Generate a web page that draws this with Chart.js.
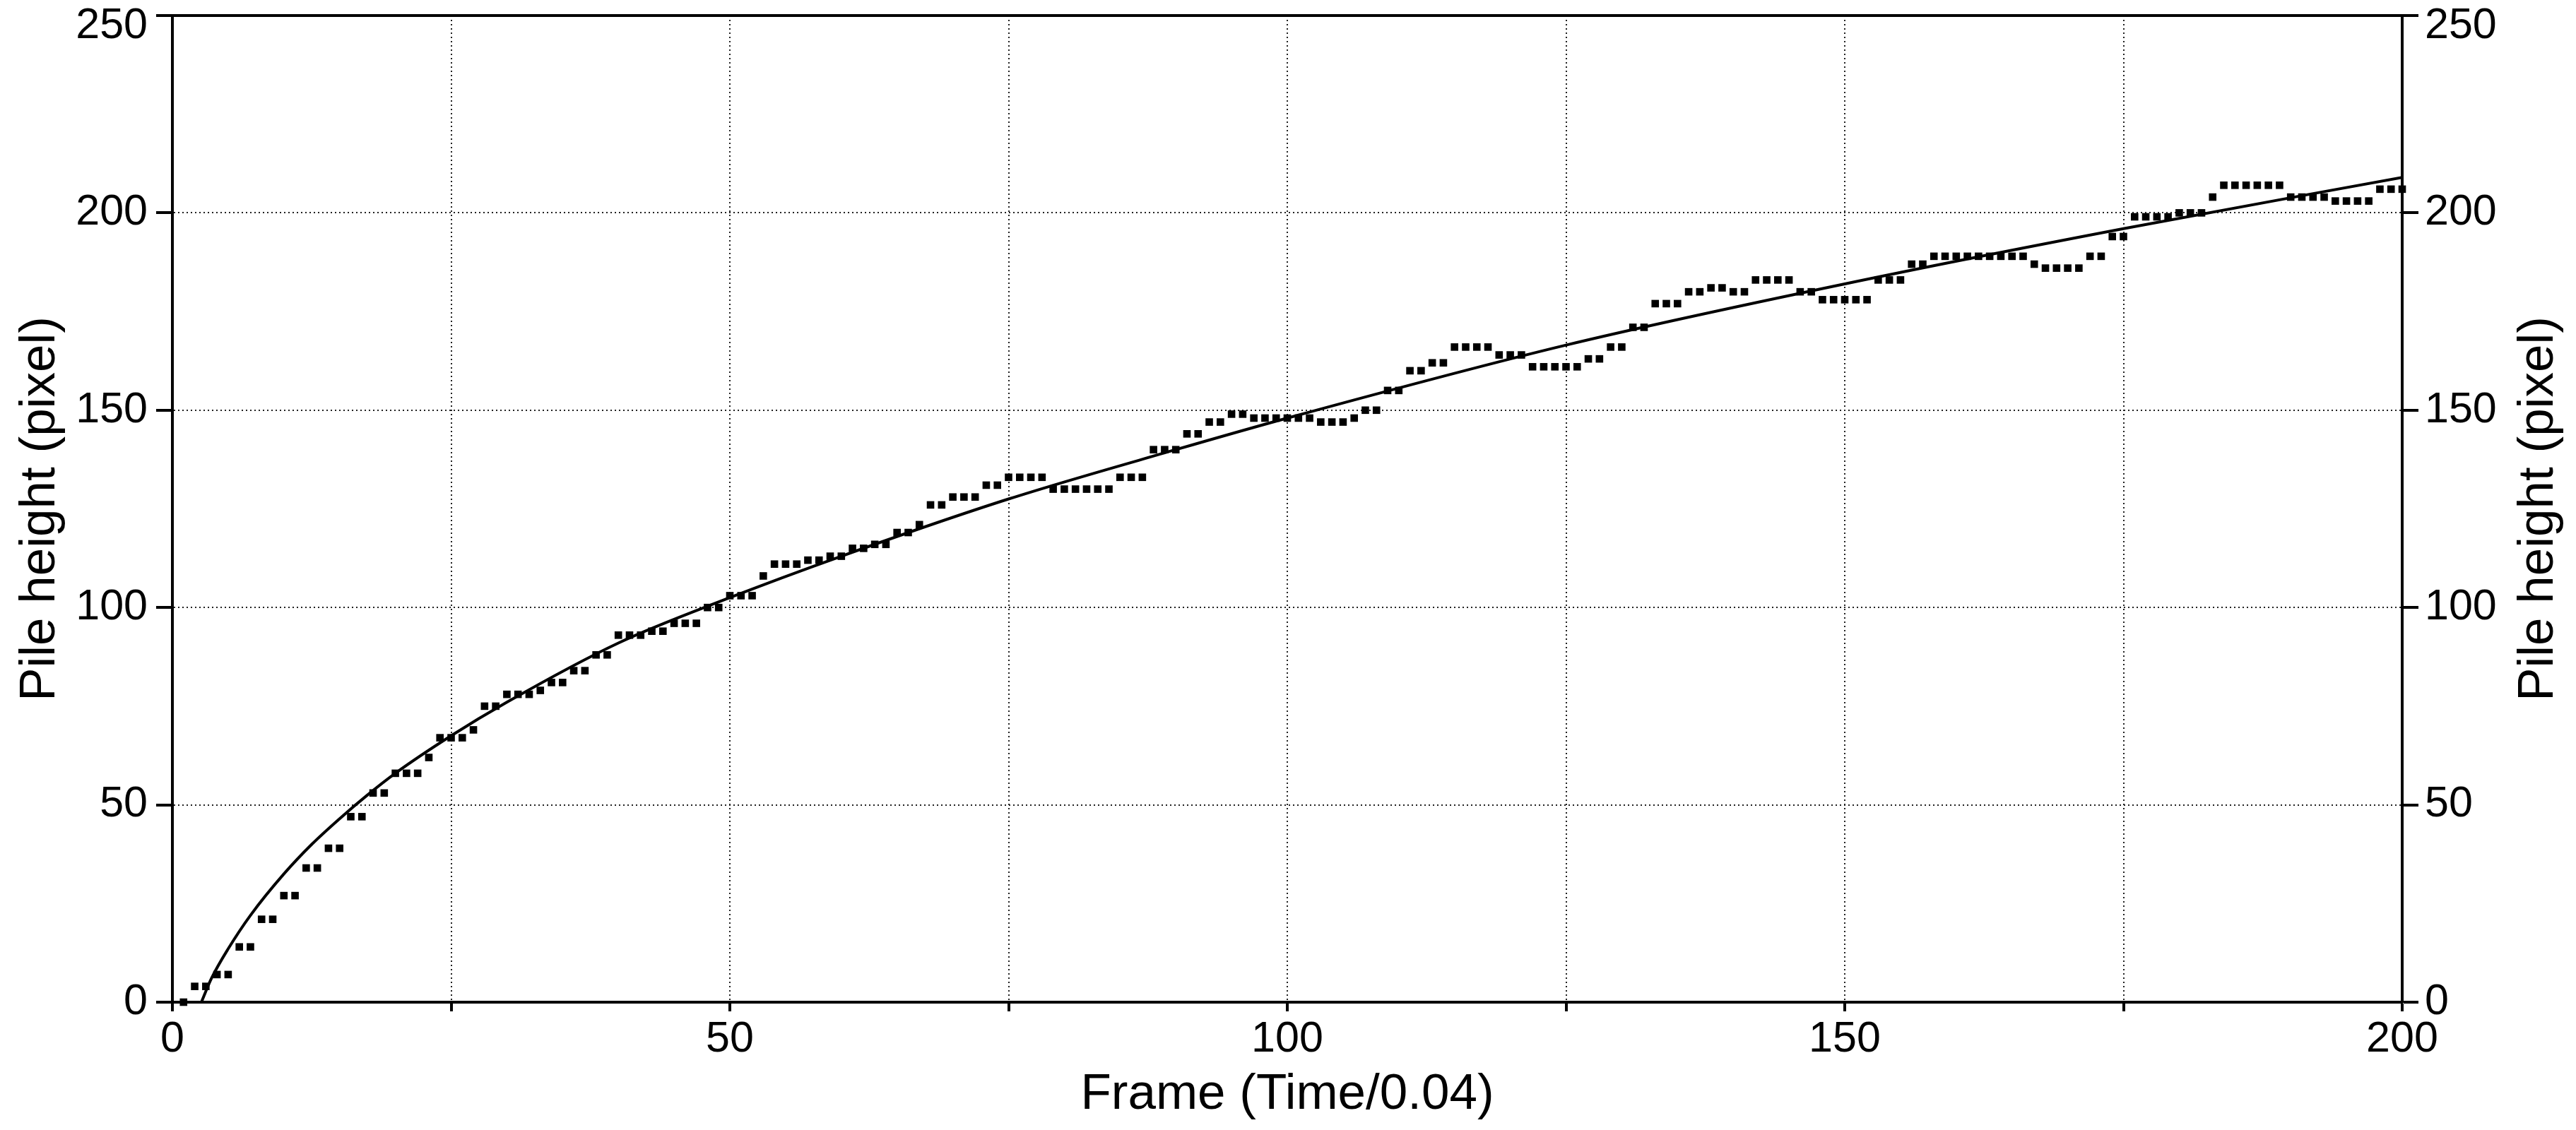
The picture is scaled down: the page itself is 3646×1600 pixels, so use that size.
<!DOCTYPE html>
<html>
<head>
<meta charset="utf-8">
<script src="https://cdn.jsdelivr.net/npm/chart.js@4.4.1/dist/chart.umd.min.js"></script>
<style>
  html, body { margin: 0; padding: 0; background: #fff; }
  #wrap { width: 3646px; height: 1600px; position: relative; }
</style>
</head>
<body>
<div id="wrap"><canvas id="myChart"></canvas></div>
<script>
// measured pile height for each frame (frame 1 .. 200)
const heights = [
  0, 4, 4, 7, 7, 14, 14, 21, 21, 27,
  27, 34, 34, 39, 39, 47, 47, 53, 53, 58,
  58, 58, 62, 67, 67, 67, 69, 75, 75, 78,
  78, 78, 79, 81, 81, 84, 84, 88, 88, 93,
  93, 93, 94, 94, 96, 96, 96, 100, 100, 103,
  103, 103, 108, 111, 111, 111, 112, 112, 113, 113,
  115, 115, 116, 116, 119, 119, 121, 126, 126, 128,
  128, 128, 131, 131, 133, 133, 133, 133, 130, 130,
  130, 130, 130, 130, 133, 133, 133, 140, 140, 140,
  144, 144, 147, 147, 149, 149, 148, 148, 148, 148,
  148, 148, 147, 147, 147, 148, 150, 150, 155, 155,
  160, 160, 162, 162, 166, 166, 166, 166, 164, 164,
  164, 161, 161, 161, 161, 161, 163, 163, 166, 166,
  171, 171, 177, 177, 177, 180, 180, 181, 181, 180,
  180, 183, 183, 183, 183, 180, 180, 178, 178, 178,
  178, 178, 183, 183, 183, 187, 187, 189, 189, 189,
  189, 189, 189, 189, 189, 189, 187, 186, 186, 186,
  186, 189, 189, 194, 194, 199, 199, 199, 199, 200,
  200, 200, 204, 207, 207, 207, 207, 207, 207, 204,
  204, 204, 204, 203, 203, 203, 203, 206, 206, 206
];
const frames = heights.map((h, i) => i + 1);

// fitted curve
const fitFrames = [2.6, 3.5, 5, 7, 10, 12.5, 15, 17.5, 20, 25, 30, 40, 50, 60, 75, 90, 100, 125, 150, 175, 200];
const fitHeights = [0, 6, 13.5, 22, 32.5, 40, 46.5, 52.5, 58, 67.5, 76, 91, 102.5, 113, 127.5, 140, 148, 166.5, 182, 196, 209];

const xTicks = [0, 50, 100, 150, 200];
const yTicks = [0, 50, 100, 150, 200, 250];

const xTitle = "Frame (Time/0.04)";
const yTitle = "Pile height (pixel)";

const FONT = '"Liberation Sans", Arial, sans-serif';

// frame + axis titles
const decor = {
  id: "decor",
  beforeDraw(chart) {
    // the top y label sits a bit lower so it stays inside the page
    ["y", "y2"].forEach((id) => {
      const items = chart.scales[id].getLabelItems();
      items.forEach((it) => {
        if (it.label === "250") it.options.translation[1] += 15;
      });
    });
  },
  afterDraw(chart) {
    const ctx = chart.ctx;
    const a = chart.chartArea;
    ctx.save();
    ctx.strokeStyle = "#000";
    ctx.lineWidth = 4;
    ctx.beginPath();
    ctx.moveTo(a.left - 2, a.top);
    ctx.lineTo(a.right + 2, a.top);
    ctx.stroke();

    ctx.fillStyle = "#000";
    ctx.font = "71px " + FONT;
    ctx.textAlign = "center";
    ctx.textBaseline = "alphabetic";
    const midY = (a.top + a.bottom) / 2;
    [77, 3613].forEach((x) => {
      ctx.save();
      ctx.translate(x, midY);
      ctx.rotate(-Math.PI / 2);
      ctx.fillText(yTitle, 0, 0);
      ctx.restore();
    });
    ctx.fillText(xTitle, (a.left + a.right) / 2, 1570);
    ctx.restore();
  }
};

const gridStyle = {
  color: "#222",
  lineWidth: 2,
  tickColor: "#000",
  tickWidth: 4
};

const ctx = document.getElementById("myChart").getContext("2d");
new Chart(ctx, {
  type: "scatter",
  data: {
    datasets: [
      {
        label: "fit",
        data: fitFrames.map((f, i) => ({ x: f, y: fitHeights[i] })),
        showLine: true,
        borderColor: "#000",
        borderWidth: 4,
        pointRadius: 0,
        cubicInterpolationMode: "monotone",
        fill: false
      },
      {
        label: "data",
        data: frames.map((f, i) => ({ x: f, y: heights[i] })),
        pointStyle: "rect",
        pointRadius: 7.5,
        backgroundColor: "#000",
        borderColor: "#000",
        borderWidth: 0,
        clip: false
      }
    ]
  },
  options: {
    responsive: true,
    maintainAspectRatio: false,
    devicePixelRatio: 1,
    animation: false,
    layout: { padding: { top: 22, left: 0, right: 0, bottom: 0 } },
    plugins: { legend: { display: false }, tooltip: { enabled: false } },
    scales: {
      x: {
        type: "linear",
        position: "bottom",
        min: 0,
        max: 200,
        ticks: {
          stepSize: 25,
          autoSkip: false,
          maxRotation: 0,
          padding: 4,
          color: "#000",
          font: { family: FONT, size: 61 },
          callback: (v) => (xTicks.includes(v) ? String(v) : "")
        },
        grid: Object.assign({ tickLength: 13 }, gridStyle),
        border: { color: "#000", width: 4, dash: [2, 4] },
        afterFit: (s) => { s.height = 181; }
      },
      y: {
        position: "left",
        min: 0,
        max: 250,
        ticks: {
          stepSize: 50,
          padding: 12,
          color: "#000",
          font: { family: FONT, size: 61 },
          callback: (v) => (yTicks.includes(v) ? String(v) : "")
        },
        grid: Object.assign({ tickLength: 23 }, gridStyle),
        border: { color: "#000", width: 4, dash: [2, 4] },
        afterFit: (s) => { s.width = 244; s.paddingTop = 0; s.paddingBottom = 0; }
      },
      y2: {
        position: "right",
        min: 0,
        max: 250,
        ticks: {
          stepSize: 50,
          padding: 9,
          color: "#000",
          font: { family: FONT, size: 61 },
          callback: (v) => (yTicks.includes(v) ? String(v) : "")
        },
        grid: Object.assign({ tickLength: 23, drawOnChartArea: false }, gridStyle),
        border: { color: "#000", width: 4 },
        afterFit: (s) => { s.width = 246; s.paddingTop = 0; s.paddingBottom = 0; }
      }
    }
  },
  plugins: [decor]
});
</script>
</body>
</html>
